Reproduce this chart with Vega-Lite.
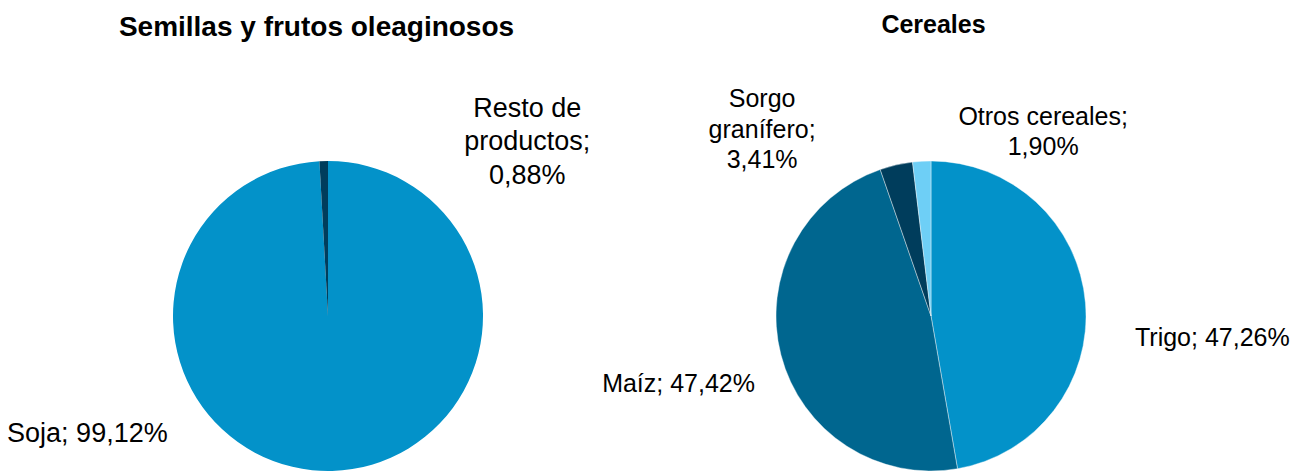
{
  "$schema": "https://vega.github.io/schema/vega-lite/v6.json",
  "background": "white",
  "padding": {"top": 13, "left": 0, "right": 0, "bottom": 0},
  "bounds": "flush",
  "spacing": 0,
  "config": {"view": {"stroke": null}, "font": "Liberation Sans"},
  "datasets": {
    "shares": [
      {"chart": "Semillas y frutos oleaginosos", "category": "Soja", "value": 99.12, "rank": 1, "label": "Soja; 99,12%"},
      {"chart": "Semillas y frutos oleaginosos", "category": "Resto de productos", "value": 0.88, "rank": 2, "label": "Resto de\nproductos;\n0,88%"},
      {"chart": "Cereales", "category": "Trigo", "value": 47.26, "rank": 1, "label": "Trigo; 47,26%"},
      {"chart": "Cereales", "category": "Maíz", "value": 47.42, "rank": 2, "label": "Maíz; 47,42%"},
      {"chart": "Cereales", "category": "Sorgo granífero", "value": 3.41, "rank": 3, "label": "Sorgo\ngranífero;\n3,41%"},
      {"chart": "Cereales", "category": "Otros cereales", "value": 1.90, "rank": 4, "label": "Otros cereales;\n1,90%"}
    ]
  },
  "hconcat": [
    {
      "width": 656,
      "height": 310,
      "title": {"text": "Semillas y frutos oleaginosos", "fontSize": 28, "fontWeight": "bold", "font": "Liberation Sans", "color": "#000000", "frame": "group", "anchor": "middle", "dx": -11.5, "offset": 38},
      "data": {"name": "shares"},
      "transform": [{"filter": "datum.chart === 'Semillas y frutos oleaginosos'"}],
      "encoding": {
        "theta": {"field": "value", "type": "quantitative", "stack": true},
        "order": {"field": "rank", "type": "quantitative"}
      },
      "layer": [
        {
          "mark": {"type": "arc", "outerRadius": 155},
          "encoding": {
            "color": {"field": "category", "type": "nominal", "legend": null,
              "scale": {"domain": ["Soja", "Resto de productos", "Trigo", "Maíz", "Sorgo granífero", "Otros cereales"],
                        "range": ["#0392C9", "#003D5C", "#0392C9", "#00668F", "#003D5C", "#6ECFF6"]}}
          }
        },
        {
          "mark": {"type": "text", "radius": 170, "fontSize": 27, "font": "Liberation Sans", "lineBreak": "\n", "align": "right", "baseline": "middle", "dx": -165, "dy": -52, "color": "#000000"},
          "encoding": {"text": {"condition": {"test": "datum.category === 'Soja'", "field": "label"}, "value": ""}}
        },
        {
          "mark": {"type": "text", "radius": 170, "fontSize": 27, "font": "Liberation Sans", "lineBreak": "\n", "lineHeight": 33.5, "align": "center", "baseline": "middle", "dx": 204, "dy": -37.2, "color": "#000000"},
          "encoding": {"text": {"condition": {"test": "datum.category === 'Resto de productos'", "field": "label"}, "value": ""}}
        }
      ]
    },
    {
      "width": 550,
      "height": 310,
      "title": {"text": "Cereales", "fontSize": 25, "fontWeight": "bold", "font": "Liberation Sans", "color": "#000000", "frame": "group", "anchor": "middle", "dx": 2.5, "offset": 45},
      "data": {"name": "shares"},
      "transform": [{"filter": "datum.chart === 'Cereales'"}],
      "encoding": {
        "theta": {"field": "value", "type": "quantitative", "stack": true},
        "order": {"field": "rank", "type": "quantitative"}
      },
      "layer": [
        {
          "mark": {"type": "arc", "outerRadius": 155, "stroke": "#ffffff", "strokeWidth": 0.4},
          "encoding": {
            "color": {"field": "category", "type": "nominal", "legend": null,
              "scale": {"domain": ["Soja", "Resto de productos", "Trigo", "Maíz", "Sorgo granífero", "Otros cereales"],
                        "range": ["#0392C9", "#003D5C", "#0392C9", "#00668F", "#003D5C", "#6ECFF6"]}}
          }
        },
        {
          "mark": {"type": "text", "radius": 170, "fontSize": 25, "font": "Liberation Sans", "lineBreak": "\n", "align": "left", "baseline": "middle", "dx": 34.6, "dy": 36.1, "color": "#000000"},
          "encoding": {"text": {"condition": {"test": "datum.category === 'Trigo'", "field": "label"}, "value": ""}}
        },
        {
          "mark": {"type": "text", "radius": 170, "fontSize": 25, "font": "Liberation Sans", "lineBreak": "\n", "align": "right", "baseline": "middle", "dx": -11.4, "dy": 25.9, "color": "#000000"},
          "encoding": {"text": {"condition": {"test": "datum.category === 'Maíz'", "field": "label"}, "value": ""}}
        },
        {
          "mark": {"type": "text", "radius": 170, "fontSize": 25, "font": "Liberation Sans", "lineBreak": "\n", "lineHeight": 30.5, "align": "center", "baseline": "middle", "dx": -130.7, "dy": -50.9, "color": "#000000"},
          "encoding": {"text": {"condition": {"test": "datum.category === 'Sorgo granífero'", "field": "label"}, "value": ""}}
        },
        {
          "mark": {"type": "text", "radius": 170, "fontSize": 25, "font": "Liberation Sans", "lineBreak": "\n", "lineHeight": 30, "align": "center", "baseline": "middle", "dx": 122.3, "dy": -29.8, "color": "#000000"},
          "encoding": {"text": {"condition": {"test": "datum.category === 'Otros cereales'", "field": "label"}, "value": ""}}
        }
      ]
    }
  ]
}
